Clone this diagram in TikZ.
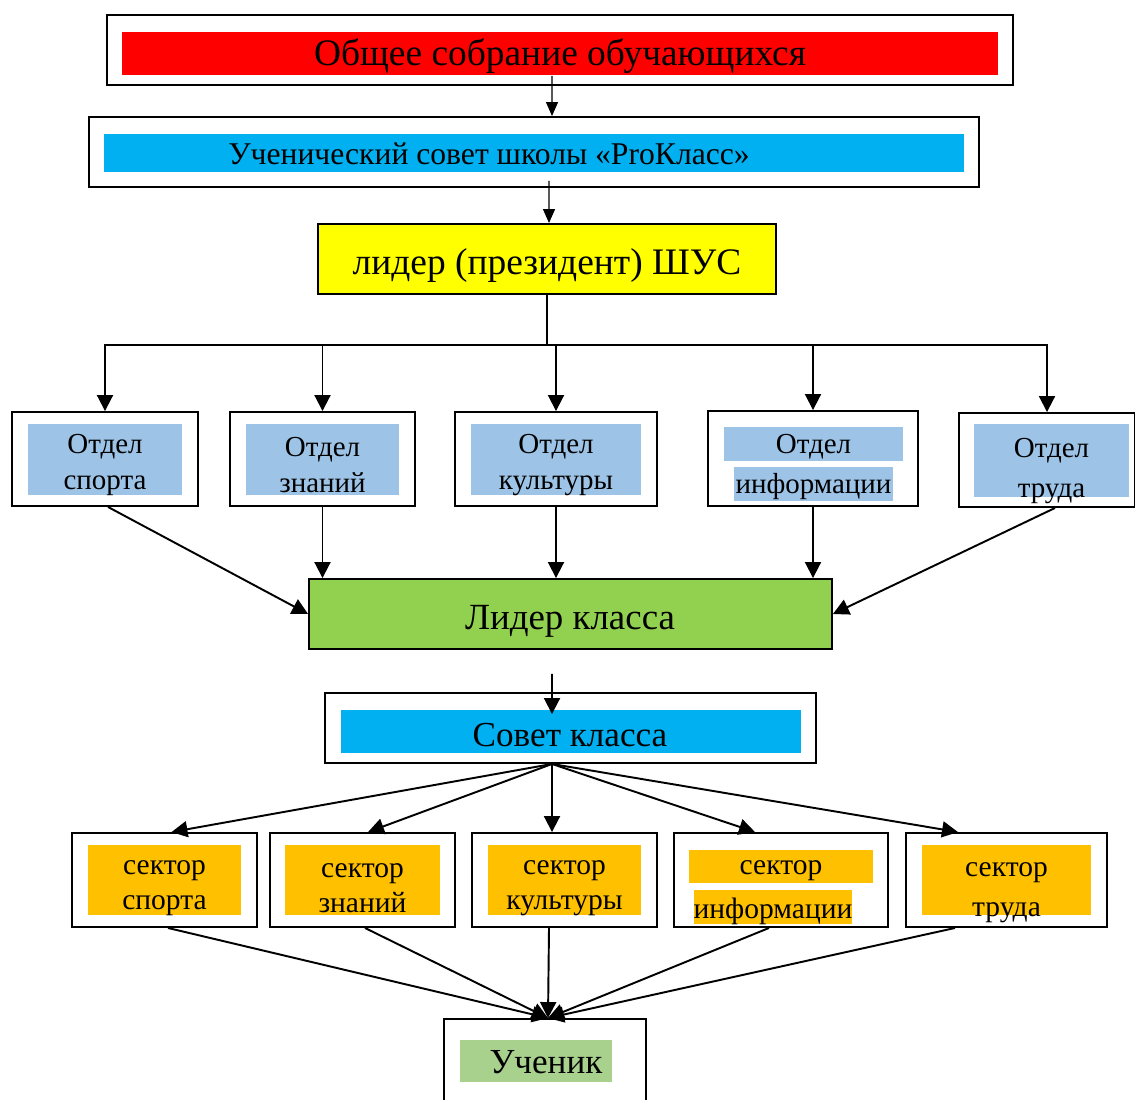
\documentclass[tikz,border=0pt]{standalone}
\usepackage{fontspec}
\setmainfont{Liberation Serif}
\usetikzlibrary{arrows.meta, positioning}
\definecolor{redbox}{HTML}{FF0000}
\definecolor{bluebox}{HTML}{00B0F0}
\definecolor{yellowbox}{HTML}{FFFF00}
\definecolor{otdelblue}{HTML}{9DC3E6}
\definecolor{greenbox}{HTML}{92D050}
\definecolor{sektororange}{HTML}{FFC000}
\definecolor{uchgreen}{HTML}{A9D18E}

\begin{document}
\begin{tikzpicture}[x=0.02cm, y=-0.02cm, line width=1.1pt, >={Triangle[length=0.32cm,width=0.32cm]}]
    \tikzstyle{frame}=[draw=black, line width=1.1pt, rectangle, inner sep=0pt]
    \tikzstyle{plate}=[rectangle, inner sep=0pt, align=center]
    \tikzstyle{otdel}=[plate, fill=otdelblue, font=\fontsize{16.5}{21}\selectfont]
    \tikzstyle{sektor}=[plate, fill=sektororange, font=\fontsize{16.8}{20}\selectfont]
    \tikzstyle{thin arrow}=[line width=0.7pt, -{Triangle[length=0.28cm,width=0.24cm]}]

    \clip (0,0) rectangle (1135,1099);

%   top of the school
    \node[frame, minimum width=18.12cm, minimum height=1.4cm] (sobr) at (560,50) {};
    \node[plate, fill=redbox, minimum width=17.52cm, minimum height=0.86cm] (sobr-in) at (560,53.5) {};
    \node[font=\fontsize{21.3}{26}\selectfont] (sobr-txt) at (560,56) {Общее собрание обучающихся};

    \node[frame, minimum width=17.8cm, minimum height=1.4cm] (shus) at (534,152) {};
    \node[plate, fill=bluebox, minimum width=17.2cm, minimum height=0.76cm] (shus-in) at (534,153) {};
    \node[font=\fontsize{18}{22}\selectfont] (shus-txt) at (489,154) {Ученический совет школы «ProКласс»};

    \node[frame, fill=yellowbox, minimum width=9.16cm, minimum height=1.4cm] (lider) at (547,259) {};
    \node[font=\fontsize{21.3}{26}\selectfont] (lider-txt) at (547,265) {лидер (президент) ШУС};

    \draw[thin arrow] ([xshift=-0.16cm]sobr-in.south) -- ([xshift=0.36cm]shus.north);
    \draw[thin arrow] ([xshift=0.3cm,yshift=-0.16cm]shus-in.south) -- ([xshift=0.04cm]lider.north);

%   departments
    \foreach \i/\cx/\w/\iw/\txt in {1/105/3.72/3.1/{Отдел\\спорта}, 2/322.5/3.7/3.08/{Отдел\\знаний}, 3/556/4.04/3.4/{Отдел\\культуры}}{
        \node[frame, minimum width=\w cm, minimum height=1.88cm] (O-\i) at (\cx,459) {};
        \node[otdel, minimum width=\iw cm, minimum height=1.42cm] (O-\i-in) at (\cx,459) {};
        \node[otdel, fill=none] (O-\i-txt) at (\cx,465) {\txt};
    }

    \node[frame, minimum width=4.2cm, minimum height=1.9cm] (O-4) at (813,458.5) {};
    \node[otdel, minimum width=3.58cm, minimum height=0.68cm] (O-4-a) at (813.5,444) {};
    \node[otdel, fill=none] (O-4-a-txt) at (813.5,447) {Отдел};
    \node[otdel, minimum width=3.18cm, minimum height=0.68cm] (O-4-b) at (813.5,484) {};
    \node[otdel, fill=none] (O-4-b-txt) at (813.5,487) {информации};

    \node[frame, minimum width=3.52cm, minimum height=1.88cm] (O-5) at (1047,460) {};
    \node[otdel, minimum width=3.1cm, minimum height=1.46cm] (O-5-in) at (1051.5,460.5) {};
    \node[otdel, fill=none, font=\fontsize{16.5}{23}\selectfont] (O-5-txt) at (1051.5,471) {Отдел\\труда};

    \draw (lider.south) -- ++(0,50) coordinate (hub);
    \foreach \i in {1,...,5}{
        \draw[->] (hub) -| (O-\i.north);
    }

    \node[frame, fill=greenbox, minimum width=10.46cm, minimum height=1.4cm] (klass) at (570.5,614) {};
    \node[font=\fontsize{21}{25}\selectfont] (klass-txt) at (570,621) {Лидер класса};

    \draw[->] ([xshift=0.06cm]O-1.south) -- (klass.west);
    \foreach \i in {2,3,4}{
        \draw[->] (O-\i.south) -- (O-\i.south |- klass.north);
    }
    \draw[->] ([xshift=0.16cm]O-5.south) -- (klass.east);

%   class level
    \node[frame, minimum width=9.82cm, minimum height=1.4cm] (sovet) at (570.5,728) {};
    \node[plate, fill=bluebox, minimum width=9.2cm, minimum height=0.86cm] (sovet-in) at (571,731.5) {};
    \node[font=\fontsize{20}{24}\selectfont] (sovet-txt) at (570,735) {Совет класса};

    \draw[->] ([xshift=-0.37cm,yshift=-0.48cm]klass.south) -- ([xshift=-0.38cm,yshift=-0.1cm]sovet-in.north);

    \foreach \i/\cx/\w/\iw/\txt in {1/164.5/3.7/3.08/{сектор\\спорта}, 2/362.5/3.7/3.1/{сектор\\знаний}, 3/564.5/3.7/3.08/{сектор\\культуры}}{
        \node[frame, minimum width=\w cm, minimum height=1.88cm] (S-\i) at (\cx,880) {};
        \node[sektor, minimum width=\iw cm, minimum height=1.4cm] (S-\i-in) at (\cx,880) {};
        \node[sektor, fill=none] (S-\i-txt) at (\cx,888) {\txt};
    }

    \node[frame, minimum width=4.28cm, minimum height=1.88cm] (S-4) at (781,880) {};
    \node[sektor, minimum width=3.68cm, minimum height=0.66cm] (S-4-a) at (781,866.5) {};
    \node[sektor, fill=none] (S-4-a-txt) at (781,871) {сектор};
    \node[sektor, minimum width=3.16cm, minimum height=0.68cm] (S-4-b) at (773,907) {};
    \node[sektor, fill=none] (S-4-b-txt) at (773,911) {информации};

    \node[frame, minimum width=4.02cm, minimum height=1.88cm] (S-5) at (1006.5,880) {};
    \node[sektor, minimum width=3.38cm, minimum height=1.4cm] (S-5-in) at (1006.5,880) {};
    \node[sektor, fill=none, font=\fontsize{16.8}{23}\selectfont] (S-5-txt) at (1006.5,893) {сектор\\труда};

    \foreach \i/\dx in {1/0.14, 2/0.11, 3/-0.25, 4/-0.52, 5/-0.97}{
        \draw[->] ([xshift=-0.37cm]sovet.south) -- ([xshift=\dx cm]S-\i.north);
    }

    \node[frame, minimum width=4.04cm, minimum height=1.84cm] (uch) at (545,1065) {};
    \node[plate, fill=uchgreen, minimum width=3.04cm, minimum height=0.84cm] (uch-in) at (536,1061) {};
    \node[font=\fontsize{20}{24}\selectfont] (uch-txt) at (546,1062) {Ученик};

    \foreach \i/\dx in {1/0.07, 2/0.05, 3/-0.31, 4/-0.24, 5/-1.03}{
        \draw[->] ([xshift=\dx cm]S-\i.south) -- ([xshift=0.06cm]uch.north);
    }
\end{tikzpicture}
\end{document}
